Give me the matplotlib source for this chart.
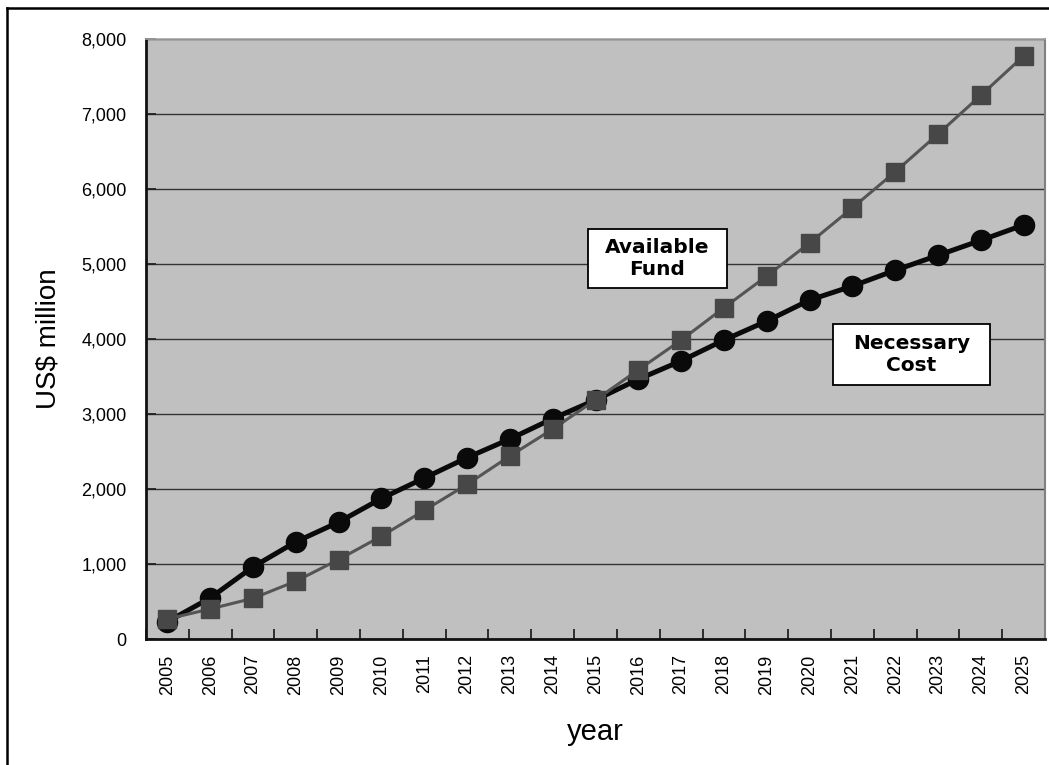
import matplotlib
matplotlib.use("Agg")
import matplotlib.pyplot as plt
from matplotlib.lines import Line2D
from matplotlib.patches import Rectangle
from matplotlib.font_manager import FontProperties
from matplotlib.ticker import FuncFormatter, MultipleLocator, FixedLocator

years = [str(y) for y in range(2005, 2026)]
necessary_cost = [230, 548, 962, 1296, 1559, 1875, 2147, 2419, 2668, 2940, 3189,
                  3465, 3710, 3987, 4241, 4521, 4708, 4918, 5118, 5318, 5523]
available_fund = [267, 401, 543, 771, 1060, 1372, 1715, 2062, 2441, 2800, 3189,
                  3590, 3987, 4419, 4842, 5283, 5751, 6232, 6735, 7252, 7777]

W, H = 1049, 765
fig = plt.figure(figsize=(W / 100, H / 100), dpi=100)
fig.patch.set_facecolor("white")

ax_left, ax_right, ax_top, ax_bottom = 146, 1045, 39.3, 639
ax = fig.add_axes([ax_left / W, (H - ax_bottom) / H,
                   (ax_right - ax_left) / W, (ax_bottom - ax_top) / H])
ax.set_facecolor("#C0C0C0")

x = list(range(len(years)))
ax.plot(x, necessary_cost, color="#0A0A0A", lw=3.6, marker="o", ms=14.5,
        markerfacecolor="#0A0A0A", markeredgecolor="#0A0A0A", zorder=3)
ax.plot(x, available_fund, color="#555555", lw=2.2, marker="s", ms=12.5,
        markerfacecolor="#474747", markeredgecolor="#474747", zorder=4)

ax.set_xlim(-0.5, len(years) - 0.5)
ax.set_ylim(0, 8000)

tick_font = dict(family=["Liberation Sans", "DejaVu Sans"], size=13)

ax.yaxis.set_major_locator(MultipleLocator(1000))
ax.yaxis.set_major_formatter(FuncFormatter(lambda v, p: f"{int(v):,}"))
ax.tick_params(axis="y", direction="in", length=7, width=1.3, pad=14,
               colors="#222222", labelcolor="black")
for lab in ax.get_yticklabels():
    lab.set_fontproperties(FontProperties(**tick_font))

ax.set_xticks(x)
ax.set_xticklabels(years, rotation=90, **tick_font)
ax.xaxis.set_minor_locator(FixedLocator([i + 0.5 for i in range(-1, len(years))]))
ax.tick_params(axis="x", which="major", length=0, pad=11)
ax.tick_params(axis="x", which="minor", direction="in", length=7, width=1.3,
               color="#222222")

ax.yaxis.grid(True, color="#333333", lw=1.0, zorder=1)
ax.set_axisbelow(True)

for side in ("left", "bottom"):
    ax.spines[side].set_color("#111111")
    ax.spines[side].set_linewidth(2)
ax.spines["top"].set_color("#A8A8A8")
ax.spines["top"].set_linewidth(1.2)
ax.spines["right"].set_color("#808080")
ax.spines["right"].set_linewidth(1.5)

label_font = ["Liberation Sans Narrow", "Liberation Sans", "DejaVu Sans"]
ax.set_ylabel("US$ million", family=label_font, fontsize=20, va="center")
ax.yaxis.set_label_coords(-0.109, 0.5)
ax.set_xlabel("year", family=label_font, fontsize=21, va="center")
ax.xaxis.set_label_coords(0.5, -0.155)

# Series name boxes
boxes = [
    ("Available\nFund", (0.4917, 0.585), (0.1546, 0.098)),
    ("Necessary\nCost", (0.764, 0.4233), (0.175, 0.1017)),
]
for text, (bx, by), (bw, bh) in boxes:
    ax.add_patch(Rectangle((bx, by), bw, bh, transform=ax.transAxes,
                           facecolor="white", edgecolor="black", lw=1.3,
                           zorder=5))
    ax.text(bx + bw / 2, by + bh / 2, text, transform=ax.transAxes,
            ha="center", va="center", fontsize=14.5, fontweight="bold",
            family="DejaVu Sans", linespacing=1.2, zorder=6)

# Outer frame of the chart
fig.add_artist(Line2D([7 / W, 7 / W], [-0.1, 1 - 8 / H], transform=fig.transFigure,
                      color="black", lw=1.8))
fig.add_artist(Line2D([7 / W, 1.1], [1 - 8 / H, 1 - 8 / H], transform=fig.transFigure,
                      color="black", lw=1.8))

fig.savefig("out.png", dpi=100)
